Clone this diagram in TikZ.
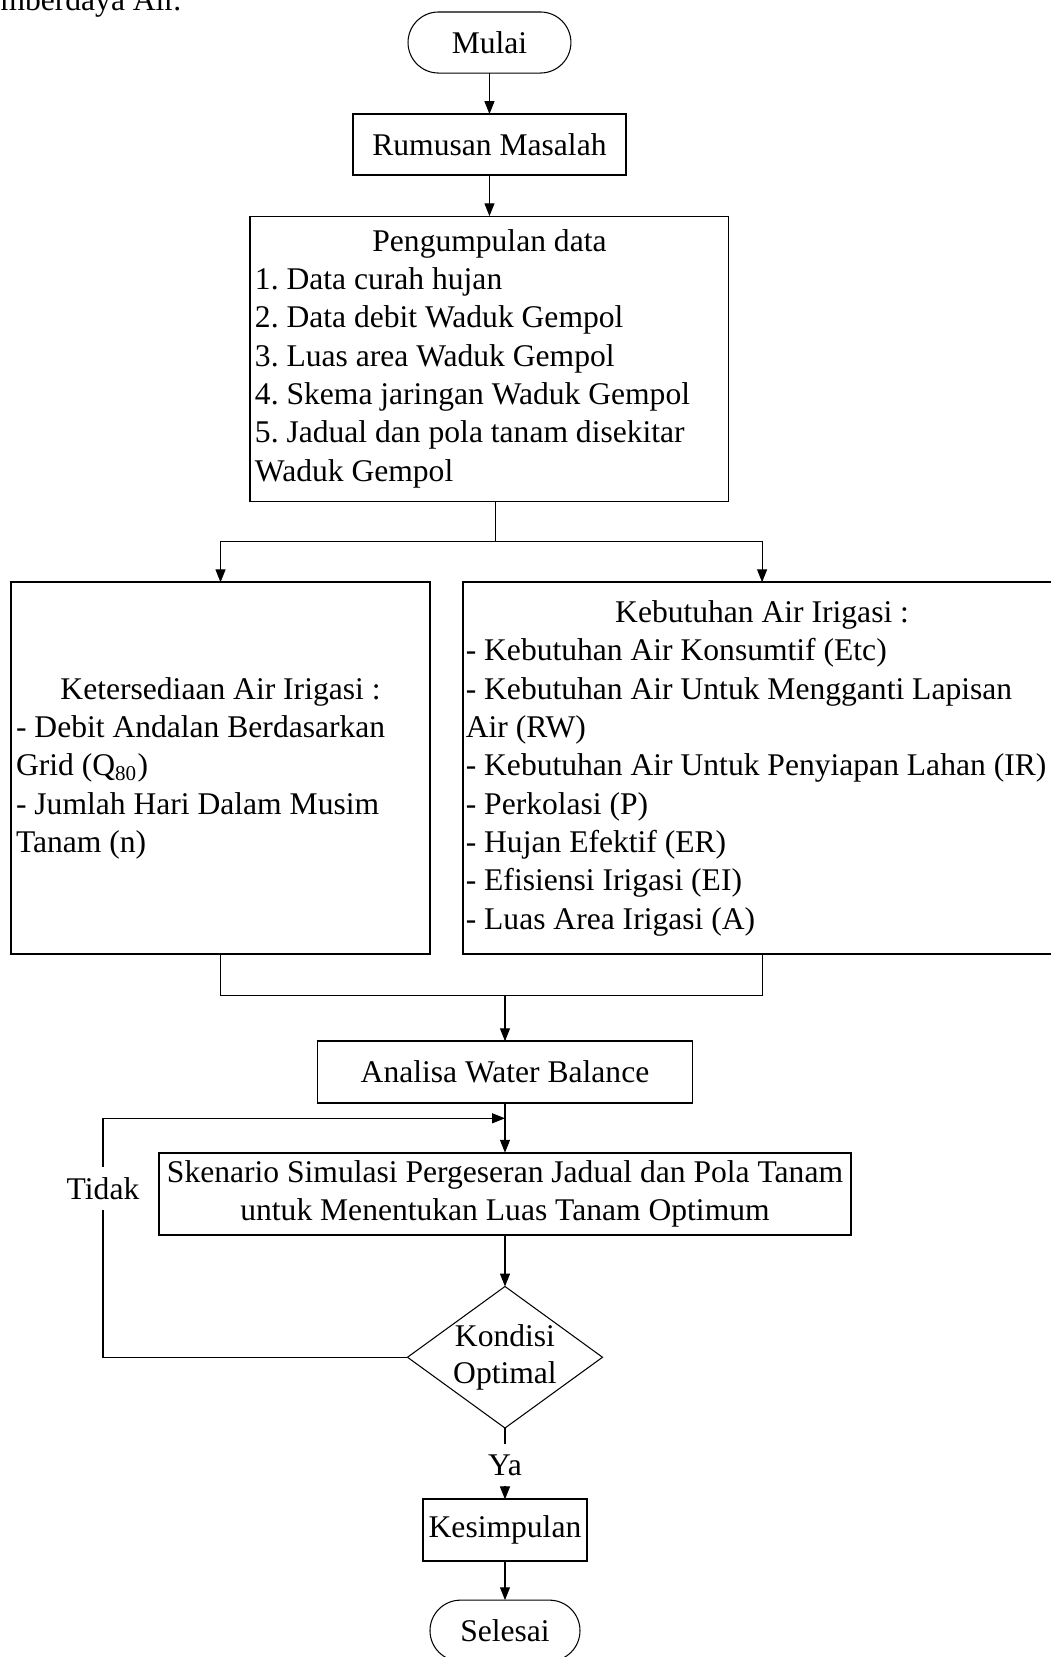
\documentclass[tikz,border=0pt]{standalone}
\usepackage{fontspec}
\setmainfont{Liberation Serif}
\usetikzlibrary{arrows.meta,positioning,shapes.geometric}
\frenchspacing

\begin{document}
\begin{tikzpicture}[
  term/.style={draw,line width=0.4pt,outer sep=0pt,rounded corners=11.6pt,minimum height=23.2pt,font=\fontsize{12}{14.5}\selectfont},
  box/.style={draw,line width=0.75pt,outer sep=0pt,minimum height=23.2pt,inner xsep=2pt,align=center,font=\fontsize{12}{14.3}\selectfont},
  listbox/.style={draw,line width=0.75pt,outer sep=0pt,align=flush left,inner xsep=1.9pt,font=\fontsize{12}{14.55}\selectfont},
  decision/.style={diamond,draw,line width=0.4pt,outer sep=0pt,aspect=1.376,inner sep=0pt,minimum width=74.1pt,minimum height=53.8pt,align=center,font=\fontsize{12}{13.9}\selectfont},
  lbl/.style={fill=white,inner xsep=1pt,inner ysep=4pt,font=\fontsize{12}{14.5}\selectfont},
  arr/.style={-{Triangle[length=4.9pt,width=3.8pt]},line width=0.4pt}]
  \useasboundingbox (-186pt,16.15pt) rectangle (213.37pt,-613.51pt);
  \node[anchor=base west,inner sep=0pt,font=\fontsize{12}{14.5}\selectfont] (teks) at (-186pt,12.1pt) {mberdaya Air.};
  \node[term,minimum width=61.9pt] (mulai) at (0,0) {Mulai};
  \node[box,minimum width=103.4pt,below=15.6pt of mulai] (rumusan) {Rumusan Masalah};
  \node[listbox,line width=0.4pt,text width=178.2pt,minimum height=108.3pt,below=15.6pt of rumusan] (data) {\noindent\makebox[\hsize]{Pengumpulan data}\\
    1. Data curah hujan\\
    2. Data debit Waduk Gempol\\
    3. Luas area Waduk Gempol\\
    4. Skema jaringan Waduk Gempol\\
    5. Jadual dan pola tanam disekitar\\
    Waduk Gempol};
  \node[listbox,text width=155.4pt,minimum height=141.4pt,below=30.8pt of data,xshift=-102.2pt] (tersedia) {\noindent\makebox[\hsize]{Ketersediaan Air Irigasi :}\\
    - Debit Andalan Berdasarkan\\
    Grid (Q\textsubscript{80})\\
    - Jumlah Hari Dalam Musim\\
    Tanam (n)};
  \node[listbox,inner xsep=1pt,text width=225.2pt,minimum height=141.4pt,below=30.8pt of data,xshift=103.6pt] (butuh) {\noindent\makebox[\hsize]{Kebutuhan Air Irigasi :}\\
    - Kebutuhan Air Konsumtif (Etc)\\
    - Kebutuhan Air Untuk Mengganti Lapisan\\
    Air (RW)\\
    - Kebutuhan Air Untuk Penyiapan Lahan (IR)\\
    - Perkolasi (P)\\
    - Hujan Efektif (ER)\\
    - Efisiensi Irigasi (EI)\\
    - Luas Area Irigasi (A)};
  \coordinate[right=2.4pt of data.south] (keluar);
  \coordinate[below=15.2pt of keluar] (cabang);
  \coordinate[below=15.6pt of tersedia.south,xshift=108.1pt] (gab);
  \node[box,minimum width=142.5pt,minimum height=23.4pt,below=17.4pt of gab] (analisa) {Analisa Water Balance};
  \coordinate[below=5.9pt of analisa.south] (masuk);
  \node[box,inner ysep=2pt,minimum width=263pt,minimum height=31.2pt,below=19pt of analisa] (skenario) {Skenario Simulasi Pergeseran Jadual dan Pola Tanam\\untuk Menentukan Luas Tanam Optimum};
  \node[decision,below=19.6pt of skenario] (kondisi) {Kondisi\\Optimal};
  \coordinate[left=115.7pt of kondisi] (belok);
  \node[box,minimum width=62.3pt,minimum height=23.4pt,below=27.1pt of kondisi] (simpulan) {Kesimpulan};
  \node[term,minimum width=57pt,below=14.9pt of simpulan] (selesai) {Selesai};
  % alur utama
  \draw[arr] (mulai) -- (rumusan);
  \draw[arr] (rumusan) -- (data);
  \draw[arr] (keluar) -- (cabang) -| (tersedia);
  \draw[arr] (cabang) -| (butuh);
  \draw (tersedia.south) |- (gab);
  \draw (butuh.south) |- (gab);
  \draw[arr] (gab) -- (analisa);
  \draw[arr] (analisa) -- (skenario);
  \draw[arr] (skenario) -- (kondisi);
  \draw[arr] (kondisi.west) -- (belok) -- node[lbl,pos=0.706] (tidak) {Tidak} (belok |- masuk) -- (masuk);
  \draw[arr] (kondisi) -- node[lbl,pos=0.52] (ya) {Ya} (simpulan);
  \draw[arr] (simpulan) -- (selesai);
\end{tikzpicture}
\end{document}
